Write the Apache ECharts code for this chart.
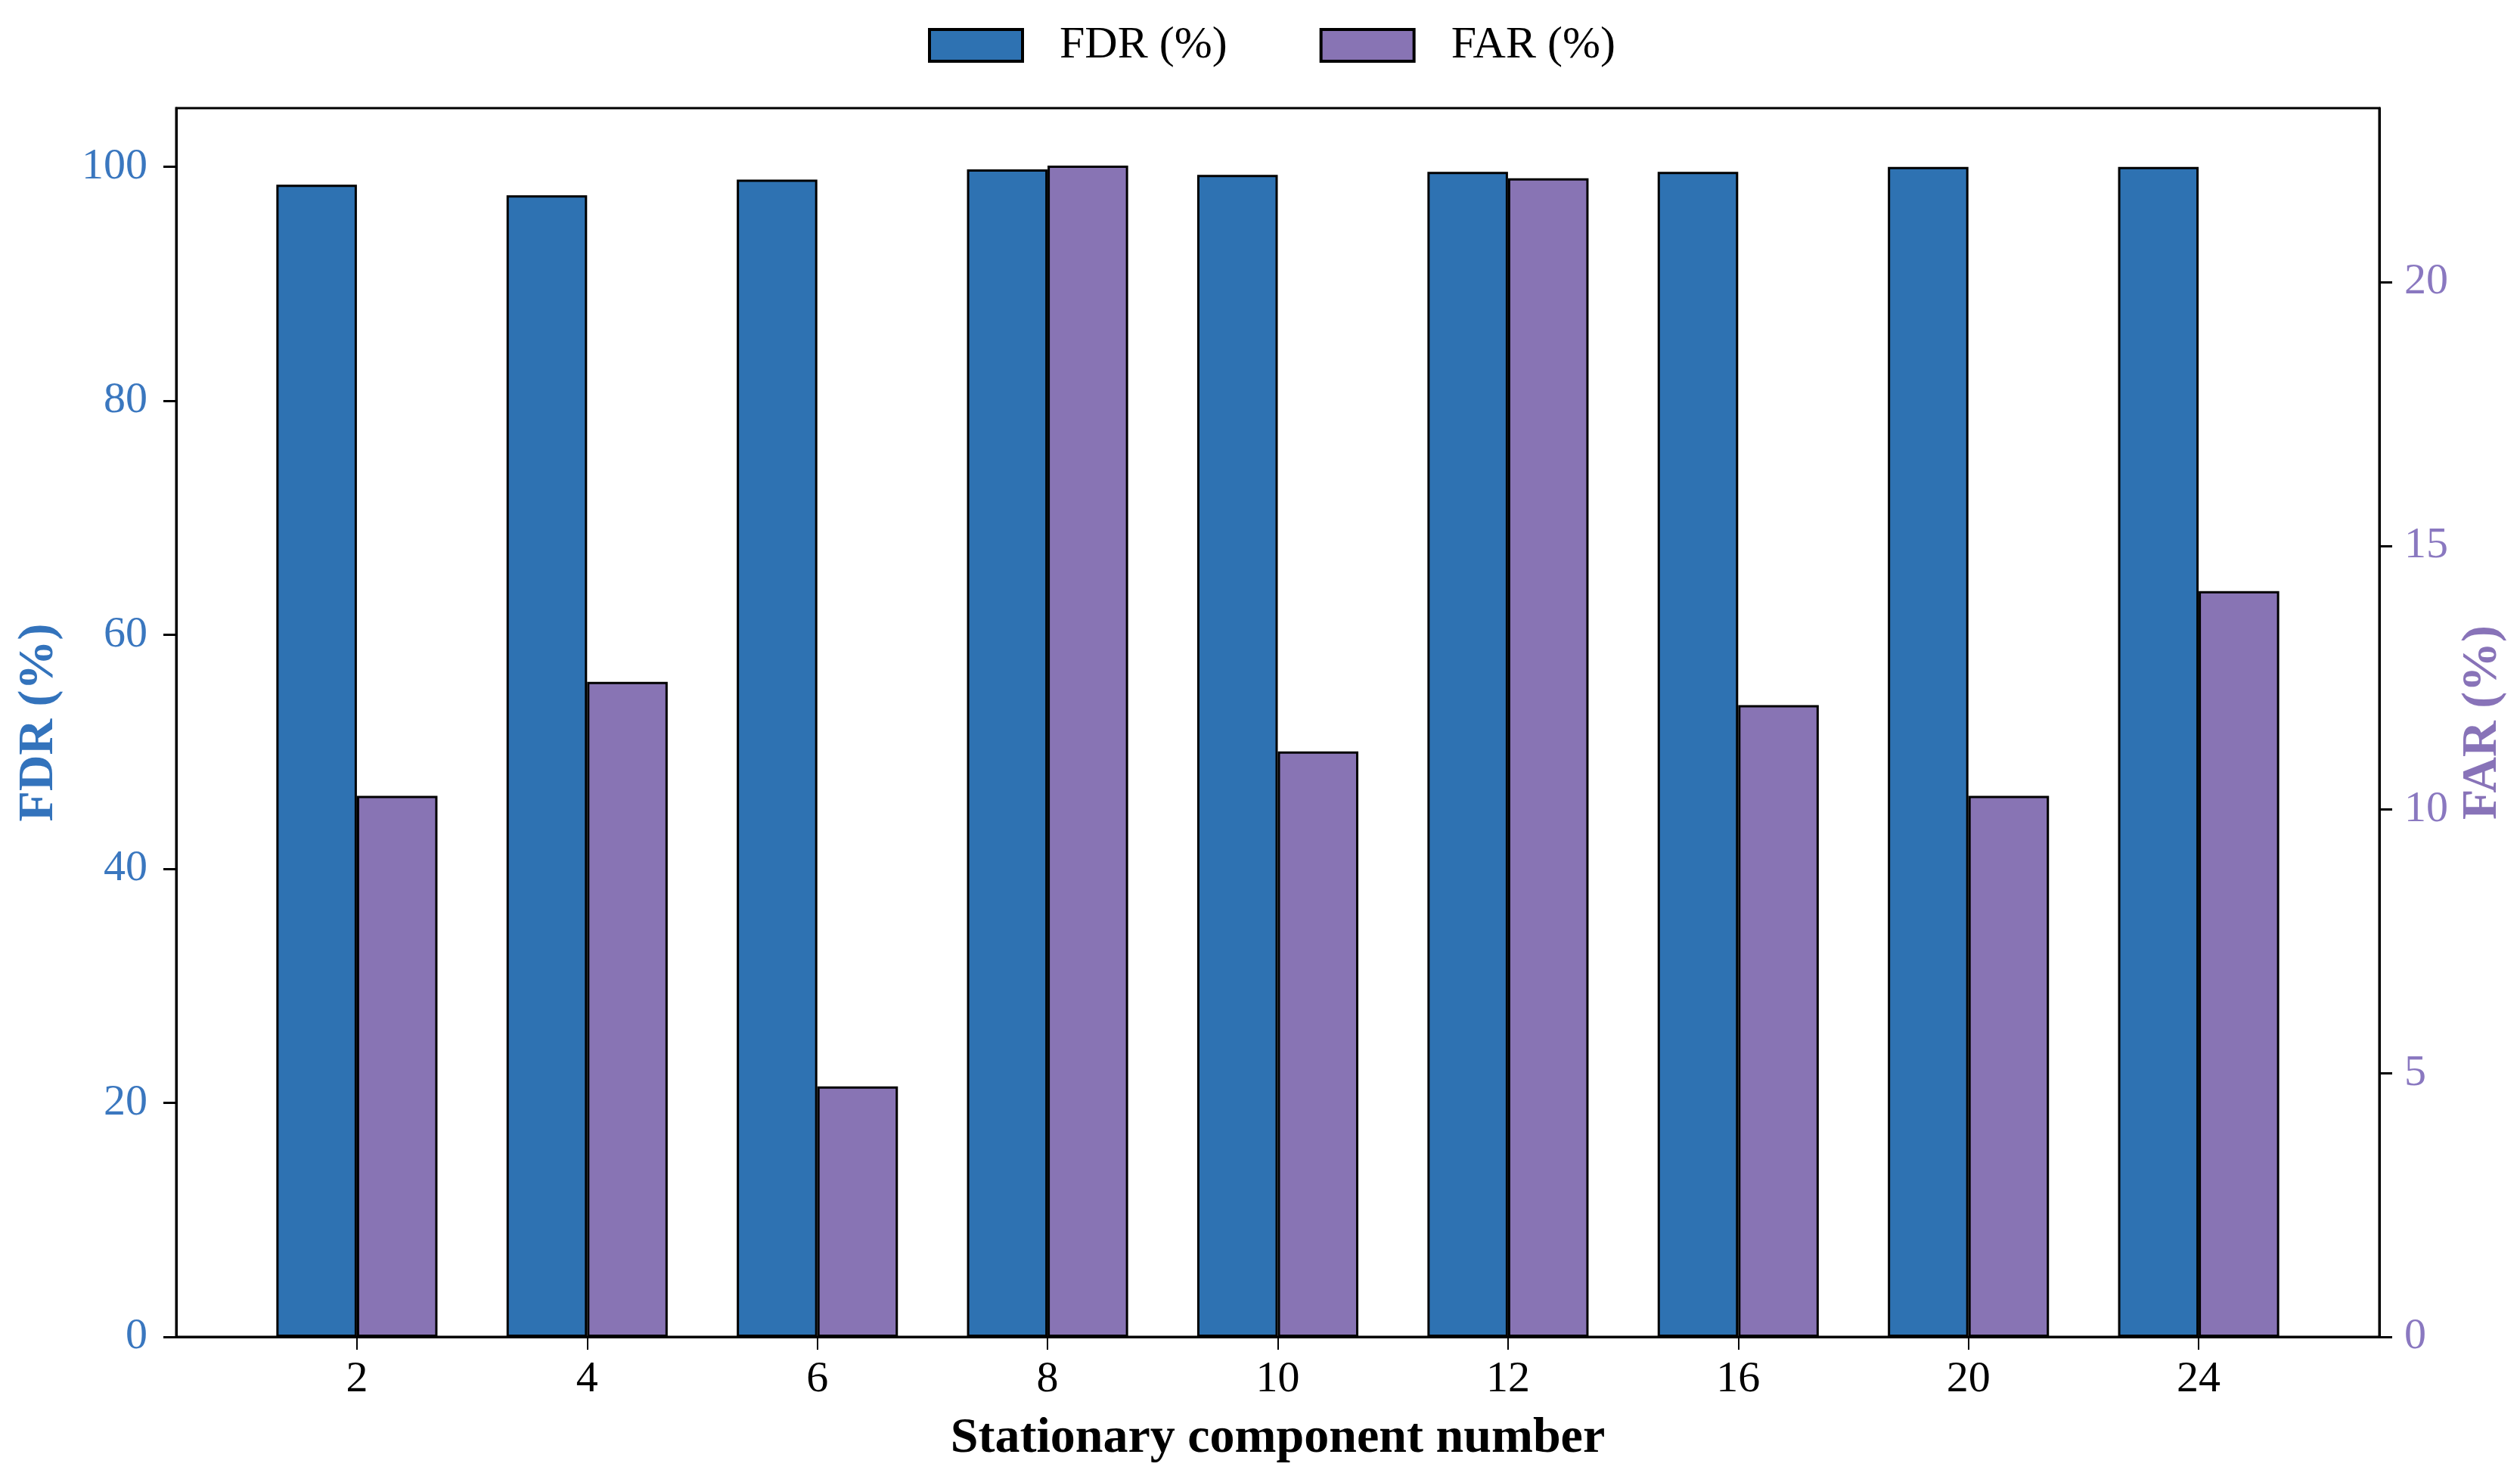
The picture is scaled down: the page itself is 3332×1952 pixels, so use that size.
<!DOCTYPE html>
<html>
<head>
<meta charset="utf-8">
<script src="https://cdn.jsdelivr.net/npm/echarts@6/dist/echarts.min.js"></script>
<style>
html,body{margin:0;padding:0;background:#fff;}
#chart{width:3332px;height:1952px;}
</style>
</head>
<body>
<div id="chart"></div>
<script>
const categories = ['2', '4', '6', '8', '10', '12', '16', '20', '24'];
const fdrValues = [98.45, 97.55, 98.9, 99.76, 99.3, 99.55, 99.55, 99.98, 99.98];
const farValues = [10.26, 12.42, 4.75, 22.21, 11.1, 21.97, 11.98, 10.26, 14.14];
const fdrTicks = [0, 20, 40, 60, 80, 100];
const farTicks = [0, 5, 10, 15, 20];

const FONT = '"Liberation Serif", "Times New Roman", serif';
const BLUE = '#2E72B2';
const PURPLE = '#8874B4';
const BLUE_TXT = '#3A77BF';
const PURPLE_TXT = '#8A78C0';

const chart = echarts.init(document.getElementById('chart'), null, {renderer: 'canvas'});

const option = {
  backgroundColor: '#fff',
  animation: false,
  textStyle: {fontFamily: FONT},
  legend: {
    data: ['FDR (%)', 'FAR (%)'],
    left: 1222,
    top: 25,
    itemWidth: 123,
    itemHeight: 42,
    itemGap: 122,
    icon: 'rect',
    itemStyle: {borderColor: '#000', borderWidth: 4},
    textStyle: {fontFamily: FONT, fontSize: 60, color: '#000', padding: [0, 0, 0, 44]}
  },
  grid: [
    {left: 233, right: 186, top: 143, bottom: 184, show: true, borderColor: '#000', borderWidth: 3, backgroundColor: 'transparent'},
    {left: 319.7, right: 272.7, top: 143, bottom: 184}
  ],
  xAxis: [
    {
      gridIndex: 0, type: 'value', min: 0, max: 1,
      axisLine: {show: true, lineStyle: {color: '#000', width: 3}},
      axisTick: {show: false}, axisLabel: {show: false}, splitLine: {show: false},
      name: 'Stationary component number',
      nameLocation: 'middle',
      nameGap: 102,
      nameTextStyle: {fontFamily: FONT, fontSize: 66, fontWeight: 'bold', color: '#000'}
    },
    {
      gridIndex: 1, type: 'category', data: categories,
      axisLine: {show: false},
      axisTick: {show: true, alignWithLabel: true, length: 17, lineStyle: {color: '#000', width: 2}},
      axisLabel: {fontFamily: FONT, fontSize: 58, color: '#000', margin: 28},
      splitLine: {show: false}
    }
  ],
  yAxis: [
    {
      gridIndex: 0, type: 'value', position: 'left', min: 0, max: 105, interval: 20,
      axisLine: {show: true, lineStyle: {color: '#000', width: 3}},
      axisTick: {show: true, length: 17, lineStyle: {color: '#000', width: 3}, customValues: fdrTicks},
      axisLabel: {fontFamily: FONT, fontSize: 58, color: BLUE_TXT, margin: 38, customValues: fdrTicks},
      splitLine: {show: false},
      name: 'FDR (%)', nameLocation: 'middle', nameGap: 148, nameRotate: 90,
      nameTextStyle: {fontFamily: FONT, fontSize: 66, fontWeight: 'bold', color: '#3373BC'}
    },
    {
      gridIndex: 0, type: 'value', position: 'right', min: 0, max: 23.3, interval: 5,
      axisLine: {show: true, lineStyle: {color: '#000', width: 3}},
      axisTick: {show: true, length: 17, lineStyle: {color: '#000', width: 3}, customValues: farTicks},
      axisLabel: {fontFamily: FONT, fontSize: 58, color: PURPLE_TXT, margin: 33, customValues: farTicks},
      splitLine: {show: false},
      name: 'FAR (%)', nameLocation: 'middle', nameGap: 104, nameRotate: 90,
      nameTextStyle: {fontFamily: FONT, fontSize: 66, fontWeight: 'bold', color: '#8873B8'}
    },
    {gridIndex: 1, type: 'value', min: 0, max: 105, show: false},
    {gridIndex: 1, type: 'value', min: 0, max: 23.3, show: false}
  ],
  series: [
    {
      name: 'FDR (%)', type: 'bar', xAxisIndex: 1, yAxisIndex: 2,
      data: fdrValues, barWidth: '35%', barGap: '0%',
      itemStyle: {color: BLUE, borderColor: '#000', borderWidth: 3}
    },
    {
      name: 'FAR (%)', type: 'bar', xAxisIndex: 1, yAxisIndex: 3,
      data: farValues, barWidth: '35%', barGap: '0%',
      itemStyle: {color: PURPLE, borderColor: '#000', borderWidth: 3}
    }
  ]
};
chart.setOption(option);
</script>
</body>
</html>
